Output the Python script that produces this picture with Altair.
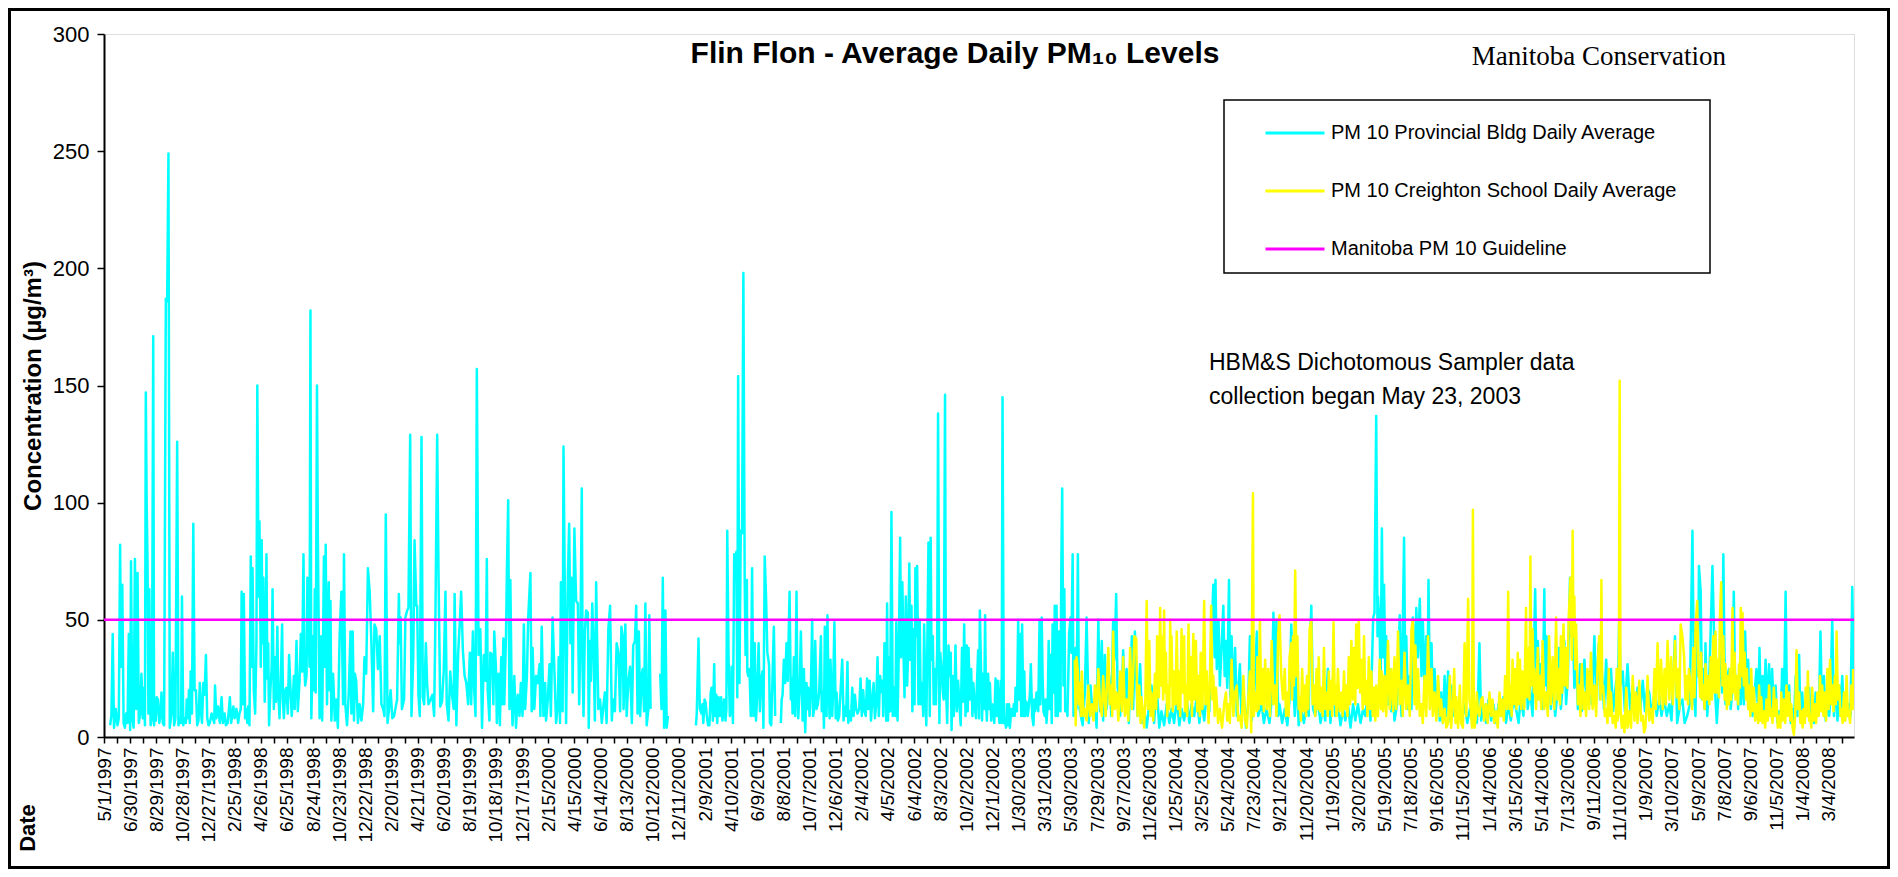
import altair as alt
import pandas as pd

# ------------------------------------------------------------------ text
TITLE = "Flin Flon - Average Daily PM\u2081\u2080 Levels"
AGENCY = "Manitoba Conservation"
Y_TITLE = "Concentration (\u00b5g/m\u00b3)"
X_TITLE = "Date"
NOTE_1 = "HBM&S Dichotomous Sampler data"
NOTE_2 = "collection began May 23, 2003"
PROV = "PM 10 Provincial Bldg Daily Average"
CREI = "PM 10 Creighton School Daily Average"
GUIDE = "Manitoba PM 10 Guideline"

START = "1997-05-01"          # first category of the date axis
N_DAYS = 4018                 # axis runs to 5/1/2008
TICK_STEP = 30                # tick marks every 30 days
LABEL_STEP = 60               # a label on every second tick
Y_TICKS = [0, 50, 100, 150, 200, 250, 300]
GUIDELINE = 50

# ------------------------------------------------------------------ data
# [days after 5/1/1997, daily average µg/m³]
prov_1997 = [[14,5],[17,9],[20,44],[23,4],[27,12],[31,5],[34,8],[37,82],[39,30],[42,65],[45,6],[48,4],[51,10],[54,6],[57,44],[60,3],[62,75],[65,8],[68,4],[71,76],[74,12],[77,70],[80,6],[83,10],[86,27],[89,8],[92,21],[94,5],[96,147],[98,100],[100,74],[102,10],[104,63],[107,5],[110,8],[113,171],[115,5],[117,16],[119,7],[121,17],[124,16],[127,6],[130,10],[132,19],[135,6],[138,5],[142,187],[145,186],[148,249],[151,4],[155,10],[158,36],[161,5],[164,8],[168,126],[171,5],[174,8],[177,6],[179,60],[182,5],[185,8],[188,6],[190,16],[193,8],[195,20],[197,6],[199,28],[202,10],[205,91],[208,20],[211,20],[214,5],[217,7],[220,23],[223,10],[225,6],[228,23],[231,18],[234,35],[237,8],[240,5],[243,6],[247,10],[250,8],[253,6],[255,22],[258,8],[262,13],[266,6],[270,17],[273,6],[277,10],[280,5],[284,6],[287,12],[289,17],[292,6],[295,10],[297,13],[300,8],[304,12],[308,6],[311,10],[314,12],[316,62],[319,14],[321,61],[324,8],[326,12],[329,6],[331,13],[334,5],[337,77],[339,30],[341,72],[344,20],[347,10],[350,40],[352,150],[355,60],[357,92],[360,30],[362,84],[364,40],[366,68],[369,15],[371,35],[373,78],[375,25],[377,40],[379,5],[382,20],[385,30],[387,63],[390,12],[393,34],[395,15],[398,47],[400,20],[403,8],[406,25],[409,48],[411,15],[413,8],[416,20],[419,21],[422,10]]
prov_1998 = [[425,35],[428,21],[431,9],[434,18],[436,26],[438,12],[442,41],[445,11],[449,24],[452,44],[455,28],[458,78],[460,30],[462,22],[465,26],[467,68],[470,45],[472,30],[474,182],[476,8],[480,43],[482,20],[484,63],[486,19],[489,150],[491,85],[495,8],[499,43],[501,7],[505,77],[507,30],[509,82],[512,14],[516,66],[518,20],[520,58],[522,7],[526,27],[530,7],[533,16],[537,4],[541,43],[545,62],[549,14],[551,78],[554,14],[558,5],[562,19],[566,45],[568,10],[571,45],[574,7],[576,27],[579,24],[583,6],[587,14],[591,7],[595,14],[598,34],[602,27],[606,72],[610,62],[614,40],[618,11],[621,48],[625,46],[629,29],[633,43],[637,14],[641,12],[644,9],[647,95],[651,6],[654,11],[658,20],[662,8],[666,9],[669,12],[673,16],[677,61],[679,40],[681,51],[684,12],[689,16],[692,51],[696,54],[699,55],[703,129],[706,9],[710,34],[713,84],[717,56],[719,56],[722,18],[725,9],[729,128],[732,17],[735,14],[739,40],[742,22],[745,14],[750,16],[754,18],[758,9],[761,52],[765,129],[768,70],[772,13],[776,15],[780,28],[784,62],[787,14],[791,7],[795,28],[799,18],[803,12],[805,61],[809,5],[813,35],[817,49],[820,62],[824,37],[828,26],[832,23],[836,14],[840,36],[843,14],[847,45],[850,20],[853,9],[856,157],[860,35],[864,46],[868,4],[872,35],[876,24]]
prov_1999 = [[879,76],[881,20],[885,7],[887,36],[891,35],[894,14],[896,45],[900,29],[902,6],[906,27],[909,5],[912,34],[914,14],[917,42],[919,14],[923,43],[925,70],[928,101],[931,12],[933,67],[936,19],[938,5],[942,26],[946,4],[950,18],[954,9],[957,23],[961,9],[964,48],[967,12],[971,26],[974,51],[979,70],[982,11],[984,38],[988,12],[992,26],[996,23],[1000,31],[1002,9],[1005,47],[1009,9],[1013,23],[1015,7],[1019,16],[1023,31],[1026,9],[1030,51],[1034,29],[1038,6],[1042,14],[1044,34],[1047,6],[1049,66],[1053,11],[1055,124],[1059,43],[1061,6],[1065,67],[1068,91],[1071,40],[1074,68],[1076,19],[1080,89],[1084,58],[1088,57],[1091,14],[1094,43],[1097,106],[1099,28],[1101,9],[1104,45],[1107,54],[1111,53],[1113,4],[1116,41],[1118,24],[1121,57],[1124,39],[1127,7],[1130,66],[1132,43],[1135,12],[1139,16],[1143,6],[1147,14],[1150,19],[1154,6],[1158,46],[1162,56],[1166,7],[1169,16],[1173,11],[1177,40],[1181,36],[1185,11],[1188,47],[1191,43],[1193,12],[1197,48],[1200,9],[1204,24],[1208,30],[1212,6],[1215,39],[1219,41],[1222,56],[1225,10],[1228,45],[1231,9],[1235,27],[1237,29],[1240,11],[1243,57],[1246,5],[1250,12],[1252,52],[1255,12]]
prov_2000_late = [[1277,27],[1280,12],[1283,68],[1286,4],[1289,54],[1292,4],[1295,9]]
prov_2001 = [[1359,5],[1361,10],[1365,42],[1368,12],[1372,10],[1374,14],[1376,6],[1379,16],[1381,15],[1384,9],[1387,5],[1390,5],[1393,19],[1395,21],[1398,7],[1401,31],[1403,9],[1406,18],[1408,6],[1411,17],[1414,9],[1417,17],[1420,7],[1424,16],[1427,7],[1429,12],[1431,88],[1434,33],[1437,9],[1439,11],[1441,30],[1444,6],[1447,78],[1449,77],[1452,79],[1454,17],[1456,154],[1459,23],[1462,88],[1465,87],[1468,198],[1471,68],[1473,35],[1476,67],[1477,28],[1479,26],[1482,29],[1485,9],[1488,72],[1491,9],[1494,40],[1497,7],[1500,19],[1503,40],[1506,11],[1508,24],[1512,28],[1514,4],[1517,77],[1520,60],[1523,36],[1527,31],[1529,6],[1532,5],[1535,26],[1538,47],[1541,9]]
prov_2001_late = [[1554,6],[1556,16],[1558,18],[1561,33],[1564,23],[1567,40],[1570,24],[1574,62],[1577,16],[1579,25],[1581,10],[1584,34],[1587,9],[1590,62],[1592,19],[1594,8],[1597,19],[1600,45],[1602,26],[1604,7],[1607,29],[1610,2],[1613,23],[1615,12],[1617,21],[1620,9],[1623,21],[1626,50],[1628,9],[1630,11],[1633,41],[1636,12],[1639,14],[1642,19],[1646,43],[1648,11],[1651,19],[1653,4],[1655,47],[1659,9],[1661,52],[1663,26],[1666,8],[1668,33],[1672,9],[1674,19],[1677,49],[1680,8],[1682,19],[1685,7],[1688,9],[1691,19],[1695,33],[1698,7],[1701,13],[1704,9],[1707,32],[1709,6],[1712,11],[1715,7],[1718,21],[1721,9],[1724,18],[1727,12],[1730,10],[1734,12],[1737,25],[1740,9],[1743,20],[1746,11],[1749,9],[1752,25],[1755,12],[1758,24],[1761,7],[1764,16],[1767,23],[1770,8],[1773,14],[1776,34],[1779,9],[1782,26],[1786,19]]
prov_2002 = [[1788,24],[1789,9],[1792,40],[1796,7],[1798,57],[1800,7],[1803,34],[1805,11],[1808,96],[1811,9],[1814,21],[1817,9],[1819,49],[1822,7],[1825,39],[1828,85],[1830,34],[1833,66],[1836,33],[1838,17],[1841,60],[1844,22],[1846,34],[1849,74],[1851,33],[1854,56],[1856,11],[1858,46],[1861,14],[1863,72],[1865,43],[1867,73],[1870,14],[1873,50],[1875,14],[1878,23],[1881,9],[1883,48],[1886,19],[1888,5],[1890,33],[1893,83],[1896,9],[1898,85],[1900,33],[1903,43],[1905,14],[1907,29],[1910,14],[1913,37],[1915,138],[1918,6],[1920,36],[1923,29],[1926,19],[1928,16],[1931,146],[1933,22],[1936,6],[1939,39],[1942,26],[1944,36],[1946,3],[1949,26],[1951,9],[1953,19],[1955,39],[1958,11],[1961,24],[1964,14],[1967,5],[1970,38],[1972,15],[1975,48],[1978,9],[1981,39],[1983,11],[1985,38],[1988,16],[1991,29],[1994,9],[1996,23],[1999,14],[2002,8],[2004,21],[2007,37],[2009,8],[2011,54],[2014,26],[2016,7],[2018,27],[2021,12],[2023,52],[2025,17],[2027,7],[2030,27],[2032,12],[2034,23],[2037,7],[2039,14],[2042,11],[2044,6],[2047,25],[2050,9],[2052,24],[2054,12],[2056,6],[2059,24],[2061,6],[2063,145],[2066,6],[2068,8],[2071,4],[2073,14],[2076,5],[2078,14],[2080,4],[2083,12],[2086,9],[2089,14],[2091,9],[2093,21],[2096,11],[2099,50],[2101,16],[2103,44],[2106,9],[2108,48],[2111,9],[2113,28],[2115,9],[2118,15],[2121,9],[2124,14],[2126,19],[2128,31],[2131,9],[2134,5],[2136,16],[2138,11],[2141,19],[2143,14],[2145,11],[2148,50],[2150,14],[2153,51],[2155,26],[2157,11],[2160,9],[2162,16],[2164,6],[2167,16],[2169,41],[2171,12],[2174,35],[2176,6],[2178,48],[2180,19],[2183,56],[2185,9],[2187,56],[2190,9],[2193,45],[2196,11],[2198,72],[2200,106],[2203,22],[2205,63],[2207,11],[2210,14],[2212,9],[2214,26],[2216,44],[2219,51],[2221,36],[2224,78],[2226,9],[2229,17],[2231,38],[2233,12],[2236,78],[2238,29],[2240,12],[2243,9]]
prov_2003 = [[2247,5],[2252,19],[2256,51],[2261,6],[2265,22],[2270,9],[2275,16],[2279,4],[2283,50],[2287,11],[2291,41],[2294,7],[2298,35],[2302,12],[2308,26],[2313,9],[2317,50],[2320,33],[2324,61],[2327,22],[2333,9],[2337,19],[2340,37],[2344,14],[2348,29],[2353,6],[2360,43],[2363,12],[2367,45],[2373,9],[2379,31],[2383,6],[2388,12],[2394,4],[2400,14],[2405,22],[2411,6],[2417,21],[2423,4],[2428,11],[2434,5],[2440,14],[2446,6],[2451,12],[2457,6],[2463,16],[2469,5],[2474,12],[2480,7],[2486,16],[2492,6],[2497,14],[2503,9],[2509,17],[2515,6],[2520,16],[2526,7],[2532,19],[2538,11],[2543,43],[2547,65],[2550,34],[2552,67],[2555,29],[2559,50],[2562,22],[2566,38],[2570,56],[2573,26],[2575,41],[2579,21],[2583,67],[2586,17],[2589,43],[2593,14],[2597,38],[2601,9],[2608,31],[2612,7],[2616,21],[2622,4],[2627,14],[2631,43],[2635,7],[2640,14],[2647,45],[2650,9],[2658,14],[2663,6],[2669,12],[2676,6],[2681,16],[2685,53],[2689,22],[2692,50],[2696,9]]
prov_2004 = [[2699,14],[2705,6],[2711,12],[2717,5],[2722,16],[2726,48],[2730,26],[2734,9],[2738,26],[2743,5],[2749,12],[2755,6],[2761,14],[2766,9],[2768,36],[2772,56],[2776,12],[2781,9],[2787,16],[2793,6],[2799,12],[2804,7],[2810,29],[2816,6],[2822,26],[2827,9],[2833,14],[2839,5],[2845,12],[2850,7],[2856,14],[2862,4],[2868,14],[2873,7],[2879,14],[2885,6],[2891,12],[2896,9],[2902,19],[2908,7],[2914,51],[2917,53],[2921,137],[2924,43],[2925,60],[2929,46],[2931,22],[2934,89],[2937,34],[2939,65],[2942,26],[2944,43],[2948,14],[2952,29],[2956,11],[2960,17],[2963,7],[2969,14],[2975,52],[2979,9],[2985,85],[2988,17],[2990,43],[2994,12],[2998,26],[3002,12],[3005,51],[3009,22],[3013,55],[3017,34],[3021,59],[3025,26],[3028,50],[3032,22],[3036,43],[3039,26],[3041,67],[3044,22],[3048,40],[3051,14],[3055,29],[3059,9],[3063,24],[3067,7],[3070,19],[3074,6],[3078,26],[3082,9],[3086,28],[3090,7],[3093,22],[3097,9],[3101,14],[3107,6],[3113,12],[3118,7],[3124,14],[3130,6],[3136,12],[3141,7],[3147,14],[3152,6]]
prov_2006 = [[3154,12],[3158,40],[3162,7],[3167,14],[3173,6],[3179,16],[3185,7],[3190,14],[3196,6],[3202,14],[3208,9],[3213,17],[3219,6],[3225,14],[3230,7],[3236,16],[3242,12],[3248,6],[3253,17],[3259,9],[3265,34],[3269,12],[3274,21],[3280,9],[3286,63],[3289,26],[3292,41],[3296,16],[3299,31],[3303,12],[3307,63],[3309,22],[3312,43],[3315,16],[3318,29],[3322,12],[3326,22],[3332,9],[3336,17],[3341,38],[3345,12],[3349,22],[3353,41],[3357,14],[3361,26],[3366,68],[3369,43],[3372,53],[3376,21],[3380,33],[3384,12],[3389,31],[3393,11],[3399,33],[3404,14],[3410,28],[3416,14],[3422,43],[3426,17],[3432,40],[3435,16],[3439,28],[3444,12],[3449,33],[3453,14],[3460,29],[3465,11],[3472,24],[3475,12],[3479,51],[3482,22],[3487,28],[3492,11],[3498,31],[3504,12],[3510,22],[3515,9],[3521,21],[3527,11],[3533,24],[3538,11],[3543,21],[3548,19],[3553,9],[3560,19],[3565,9],[3571,17],[3576,9],[3582,16],[3588,9],[3594,14],[3599,7]]
prov_2007 = [[3607,43],[3612,6],[3619,14],[3624,16],[3629,6],[3635,9],[3641,14],[3647,88],[3651,17],[3654,9],[3657,51],[3660,26],[3662,73],[3666,62],[3669,16],[3672,29],[3675,12],[3677,40],[3681,9],[3685,21],[3689,46],[3693,73],[3697,41],[3700,16],[3703,6],[3707,19],[3712,40],[3715,19],[3718,78],[3721,29],[3723,14],[3727,26],[3731,29],[3735,12],[3739,21],[3742,62],[3745,22],[3749,26],[3752,12],[3755,29],[3758,14],[3762,33],[3765,14],[3768,45],[3772,17],[3775,33],[3778,12],[3781,21],[3785,9],[3790,19],[3794,29],[3798,9],[3801,38],[3804,11],[3808,26],[3811,9],[3815,33],[3819,11],[3823,31],[3827,9],[3830,29],[3834,9],[3838,22],[3842,6],[3846,11],[3850,7],[3853,29],[3857,11],[3861,62],[3864,16],[3869,22],[3873,6],[3876,12],[3880,4],[3884,26],[3888,9],[3892,35],[3895,7],[3899,19],[3903,6],[3907,16],[3911,9],[3915,21],[3918,9],[3922,12],[3926,6],[3930,19],[3934,9],[3938,16],[3941,45],[3944,16],[3949,26],[3953,7],[3957,14],[3961,9],[3964,17],[3968,50],[3972,9],[3976,26],[3980,7],[3984,22],[3987,9],[3991,26],[3995,7],[3999,19],[4003,9],[4006,14],[4010,9],[4014,64],[4017,29]]

crei_2003 = [[2229,33],[2231,5],[2233,34],[2236,28],[2238,14],[2240,23],[2243,9],[2245,28],[2249,9],[2252,12],[2256,7],[2260,22],[2264,9],[2268,14],[2272,7],[2275,22],[2279,11],[2283,29],[2287,14],[2291,9],[2294,26],[2300,9],[2306,38],[2309,14],[2312,22],[2315,9],[2317,45],[2321,12],[2325,19],[2329,7],[2333,28],[2337,11],[2340,34],[2344,9],[2348,16],[2352,7],[2356,38],[2360,12],[2366,43],[2370,42],[2373,9],[2377,22],[2380,6],[2382,17],[2388,4],[2391,16],[2394,58],[2397,12],[2400,41],[2403,9],[2405,19],[2409,7],[2413,27],[2416,12],[2418,43],[2422,17],[2425,55],[2427,22],[2428,43],[2432,16],[2434,54],[2436,19],[2438,36],[2441,9],[2444,22],[2446,12],[2448,50],[2450,22],[2451,43],[2454,11],[2457,28],[2460,14],[2463,45],[2466,12],[2468,28],[2471,9],[2474,46],[2477,19],[2480,43],[2482,11],[2484,22],[2487,9],[2490,48],[2493,16],[2495,34],[2498,9],[2501,44],[2504,16],[2507,41],[2510,11],[2513,26],[2516,9],[2518,36],[2522,12],[2526,58],[2529,14],[2532,28],[2536,6],[2539,22],[2542,56],[2545,16],[2547,26],[2550,9],[2553,21],[2558,6],[2562,12],[2567,4],[2572,14],[2576,19],[2579,7],[2581,14],[2585,6],[2589,33],[2593,9],[2597,19],[2601,22],[2604,7],[2608,9],[2612,4],[2616,26],[2620,7],[2624,4],[2627,16],[2631,28],[2634,2],[2638,104],[2640,9],[2643,19],[2647,11],[2648,34],[2651,12],[2654,50],[2657,14],[2660,29],[2663,11],[2666,33],[2670,12],[2673,29],[2677,9],[2681,41],[2685,14],[2689,22],[2692,9],[2696,44]]
crei_2004 = [[2699,52],[2703,26],[2707,16],[2711,29],[2714,9],[2717,19],[2720,9],[2722,34],[2726,40],[2728,16],[2730,43],[2732,22],[2735,71],[2738,26],[2740,43],[2743,12],[2745,17],[2748,7],[2751,29],[2754,11],[2757,22],[2760,9],[2762,26],[2765,12],[2768,46],[2772,50],[2775,14],[2778,22],[2781,9],[2784,29],[2787,12],[2789,34],[2792,11],[2795,21],[2798,9],[2801,38],[2804,12],[2806,19],[2810,9],[2812,28],[2815,12],[2818,24],[2820,9],[2823,49],[2826,14],[2827,22],[2830,9],[2833,29],[2837,11],[2841,19],[2844,9],[2847,28],[2850,12],[2852,22],[2855,9],[2858,34],[2861,14],[2864,41],[2867,16],[2870,38],[2873,14],[2875,48],[2878,21],[2881,50],[2884,19],[2887,33],[2890,12],[2893,43],[2896,14],[2898,24],[2901,9],[2904,34],[2907,12],[2910,28],[2913,9],[2916,21],[2919,7],[2921,22],[2925,9],[2929,33],[2932,12],[2934,28],[2937,11],[2940,26],[2944,9],[2948,41],[2952,12],[2956,29],[2960,11],[2963,34],[2967,12],[2971,45],[2975,14],[2979,24],[2982,9],[2986,36],[2990,12],[2994,22],[2998,9],[3002,46],[3005,50],[3009,14],[3011,39],[3014,12],[3017,29],[3021,9],[3025,14],[3028,6],[3032,26],[3036,9],[3040,43],[3044,12],[3048,29],[3051,9],[3055,19],[3059,7],[3063,26],[3067,9],[3070,16],[3074,6],[3078,12],[3082,4],[3086,6],[3090,26],[3093,4],[3097,14],[3100,29],[3103,6],[3105,17],[3109,4],[3113,22],[3116,6],[3120,4],[3124,40],[3128,9],[3132,59],[3135,16],[3138,12],[3141,4],[3143,97],[3145,17],[3147,4],[3150,9],[3152,19]]
crei_2006 = [[3154,12],[3158,9],[3162,16],[3165,17],[3169,7],[3173,14],[3177,6],[3181,19],[3185,9],[3188,16],[3192,6],[3196,11],[3200,4],[3204,19],[3207,9],[3210,16],[3214,7],[3217,26],[3221,12],[3224,62],[3227,12],[3229,22],[3232,9],[3234,33],[3237,14],[3240,29],[3243,12],[3246,36],[3248,14],[3251,33],[3254,12],[3257,28],[3261,12],[3265,55],[3267,17],[3270,38],[3273,16],[3275,77],[3277,22],[3280,46],[3283,19],[3284,29],[3288,12],[3292,38],[3294,16],[3297,26],[3300,12],[3303,41],[3307,12],[3311,19],[3315,9],[3318,43],[3322,14],[3326,34],[3330,12],[3334,51],[3337,16],[3340,29],[3343,14],[3345,43],[3348,19],[3351,48],[3354,22],[3357,38],[3360,21],[3363,51],[3367,68],[3370,33],[3372,88],[3374,43],[3376,60],[3378,29],[3380,48],[3384,14],[3387,22],[3390,9],[3393,31],[3397,12],[3399,19],[3403,9],[3406,29],[3410,12],[3414,36],[3418,12],[3422,22],[3426,9],[3429,29],[3433,43],[3436,16],[3438,67],[3440,19],[3442,22],[3446,9],[3449,12],[3452,6],[3455,29],[3458,9],[3460,19],[3464,6],[3468,9],[3471,4],[3473,29],[3475,7],[3478,11],[3480,152],[3482,12],[3485,4],[3488,9],[3491,2],[3495,21],[3498,4],[3502,11],[3506,4],[3510,26],[3514,7],[3517,19],[3521,6],[3525,24],[3529,7],[3533,9],[3536,2],[3539,4],[3542,14],[3544,26],[3548,7],[3552,12],[3556,6],[3560,29],[3563,12],[3567,40],[3571,14],[3575,33],[3579,12],[3583,29],[3586,14],[3590,41],[3594,16],[3598,34],[3602,14],[3605,29]]
crei_2007 = [[3607,41],[3611,17],[3614,29],[3617,12],[3620,48],[3624,43],[3628,34],[3631,16],[3634,26],[3637,14],[3639,29],[3643,22],[3646,12],[3649,38],[3652,17],[3654,46],[3658,58],[3661,26],[3662,29],[3665,17],[3667,36],[3670,16],[3672,22],[3675,12],[3677,31],[3680,16],[3683,26],[3686,14],[3689,34],[3692,16],[3695,43],[3698,19],[3700,45],[3703,19],[3706,33],[3708,17],[3710,50],[3713,66],[3716,22],[3718,43],[3721,16],[3723,31],[3726,12],[3729,26],[3731,14],[3733,29],[3736,16],[3739,55],[3741,19],[3744,36],[3746,16],[3749,26],[3752,14],[3754,31],[3756,21],[3758,55],[3760,26],[3762,53],[3765,22],[3767,36],[3770,16],[3772,29],[3775,12],[3777,22],[3780,9],[3782,29],[3785,11],[3788,21],[3791,7],[3795,14],[3798,6],[3800,22],[3803,7],[3805,17],[3808,6],[3811,11],[3814,4],[3817,16],[3820,7],[3823,22],[3826,9],[3828,12],[3831,6],[3834,21],[3837,9],[3840,16],[3843,4],[3846,9],[3849,4],[3851,19],[3854,7],[3857,16],[3860,6],[3863,22],[3866,9],[3869,19],[3872,7],[3874,14],[3877,4],[3880,1],[3883,9],[3886,37],[3889,12],[3892,19],[3895,6],[3897,11],[3900,4],[3902,12],[3905,6],[3907,21],[3910,9],[3912,28],[3915,7],[3917,9],[3920,4],[3922,21],[3925,7],[3928,14],[3931,6],[3934,19],[3937,9],[3940,26],[3943,11],[3945,22],[3948,9],[3951,19],[3954,7],[3957,29],[3960,12],[3963,33],[3966,14],[3968,22],[3971,11],[3974,26],[3976,14],[3978,45],[3981,16],[3984,22],[3987,9],[3989,12],[3992,6],[3995,19],[3998,7],[4001,26],[4004,9],[4006,11],[4009,6],[4012,22],[4015,12],[4016,29]]

guide_days = [0, N_DAYS]
guide_vals = [GUIDELINE, GUIDELINE]

# continuous runs of the Provincial Bldg record (gaps break the line)
prov_runs = [
    prov_1997 + prov_1998 + prov_1999,
    prov_2000_late,
    prov_2001,
    prov_2001_late + prov_2002 + prov_2003 + prov_2004 + prov_2006 + prov_2007,
]
crei_runs = [crei_2003 + crei_2004 + crei_2006 + crei_2007]

COLORS = ["#00FFFF", "#FFFF00", "#FF00FF"]

# ------------------------------------------------------------------ tables
base = pd.Timestamp(START)


def table(runs, series):
    rows = []
    for seg, run in enumerate(runs):
        for d, v in run:
            rows.append({"date": (base + pd.Timedelta(days=d)).strftime("%Y-%m-%d"),
                         "value": v, "series": series, "seg": seg})
    return pd.DataFrame(rows)


prov_df = table(prov_runs, PROV)
crei_df = table(crei_runs, CREI)
guide_df = table([list(zip(guide_days, guide_vals))], GUIDE)

DAY_MS = 86400000
start_ms = int(pd.Timestamp(START, tz="UTC").timestamp() * 1000)
end_ms = start_ms + N_DAYS * DAY_MS
tick_vals = [start_ms + k * TICK_STEP * DAY_MS for k in range(N_DAYS // TICK_STEP + 1)]
label_expr = (f"(round((datum.value - {start_ms}) / {DAY_MS}) % {LABEL_STEP} == 0)"
              f" ? utcFormat(datum.value, '%-m/%-d/%Y') : ''")

FONT = "Liberation Sans"

x_enc = alt.X(
    "date:T",
    scale=alt.Scale(type="utc", domain=[start_ms, end_ms]),
    axis=alt.Axis(values=tick_vals, labelExpr=label_expr, labelAngle=270,
                  labelFont=FONT, labelFontSize=19, labelColor="black",
                  labelFlush=False, labelOverlap=False, labelBound=False,
                  labelPadding=4, tickSize=6, tickColor="black", tickWidth=1.5,
                  domainColor="black", domainWidth=2, grid=False, title=None),
)
y_enc = alt.Y(
    "value:Q",
    scale=alt.Scale(domain=[0, 300], nice=False),
    axis=alt.Axis(values=Y_TICKS, labelFont=FONT, labelFontSize=22, labelColor="black",
                  labelPadding=8, tickSize=7, tickColor="black", tickWidth=1.5,
                  domainColor="black", domainWidth=2, grid=False, title=None),
)
color_enc = alt.Color(
    "series:N",
    scale=alt.Scale(domain=[PROV, CREI, GUIDE], range=COLORS),
    legend=alt.Legend(orient="none", legendX=1160, legendY=68, title=None,
                      symbolType="stroke", symbolSize=3481, symbolStrokeWidth=3,
                      labelFont=FONT, labelFontSize=20, labelColor="black",
                      labelOffset=5, rowPadding=17, padding=0, labelLimit=0),
)


def series_layer(df, width):
    return alt.Chart(df).mark_line(strokeWidth=width, strokeJoin="round", clip=True).encode(
        x=x_enc, y=y_enc, color=color_enc, detail="seg:N")


one = pd.DataFrame({"k": [0]})


def text_layer(txt, x, y, size, bold=False, align="center", angle=0, font=FONT):
    kw = dict(text=txt, fontSize=size, font=font, align=align, baseline="middle", color="black")
    if bold:
        kw["fontWeight"] = "bold"
    if angle:
        kw["angle"] = angle
    return alt.Chart(one).mark_text(**kw).encode(x=alt.value(x), y=alt.value(y))


def box_layer(x1, x2, y1, y2, width):
    return alt.Chart(one).mark_rect(fillOpacity=0, stroke="black", strokeWidth=width).encode(
        x=alt.value(x1), x2=alt.value(x2), y=alt.value(y1), y2=alt.value(y2))


chart = alt.layer(
    series_layer(prov_df, 2.5),
    series_layer(crei_df, 2.5),
    series_layer(guide_df, 2.5),
    box_layer(1120, 1606, 66, 239, 1.5),
    box_layer(-94.5, 1784.5, -24.5, 833.5, 3),
    text_layer(TITLE, 851, 20, 30, bold=True),
    text_layer(AGENCY, 1622, 23, 27, align="right", font="Liberation Serif"),
    text_layer(NOTE_1, 1105, 329, 23, align="left"),
    text_layer(NOTE_2, 1105, 363, 23, align="left"),
    text_layer(Y_TITLE, -70, 352, 24, bold=True, angle=270),
    text_layer(X_TITLE, -76, 794, 22, bold=True, angle=270),
).properties(
    width=1750, height=703,
    autosize=alt.AutoSizeParams(type="none"),
    padding={"left": 96, "top": 26, "right": 36, "bottom": 132},
).configure_view(stroke="#808080", strokeWidth=2.5).configure(background="white")

chart.save("out.html", embed_options={"renderer": "svg", "actions": False})
